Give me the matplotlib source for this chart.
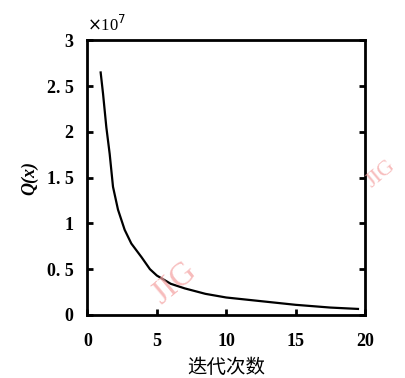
import matplotlib
matplotlib.use('Agg')
from matplotlib import pyplot as plt

# iteration vs Q(x) (units of 1e7)
iters = [0.95, 1.12, 1.36, 1.6, 1.84, 2.2, 2.68, 3.16, 3.9, 4.5, 5.0, 6.0,
         7.0, 8.5, 10, 12.5, 15, 17.5, 19.5]
q_vals = [2.65, 2.42, 2.05, 1.76, 1.40, 1.15, 0.93, 0.78, 0.63, 0.50, 0.43,
          0.34, 0.29, 0.23, 0.19, 0.15, 0.11, 0.08, 0.065]
x_ticks = [0, 5, 10, 15, 20]
y_ticks = [0, 0.5, 1, 1.5, 2, 2.5, 3]
y_labels = ['0', '0. 5', '1', '1. 5', '2', '2. 5', '3']

serif = ['Liberation Serif', 'DejaVu Serif']

fig = plt.figure(figsize=(4.05, 3.78), dpi=100)
ax = fig.add_axes([0.216, 0.167, 0.685, 0.726])

ax.plot(iters, q_vals, color='black', lw=1.6)

ax.set_xlim(0, 20)
ax.set_ylim(0, 3)
ax.set_xticks(x_ticks)
ax.set_xticklabels([str(t) for t in x_ticks], family=serif, fontsize=13,
                   fontweight='bold')
ax.set_yticks(y_ticks)
ax.set_yticklabels(y_labels, family=serif, fontsize=13, fontweight='bold')
ax.tick_params(direction='in', length=4, width=2, left=True, right=True,
               bottom=True, top=False)
ax.tick_params(axis='x', pad=13)
ax.tick_params(axis='y', pad=10)
for s in ax.spines.values():
    s.set_linewidth(2)

ax.text(0.0, 1.02, r'$\times$10$^7$', transform=ax.transAxes, family=serif,
        fontsize=12, ha='left', va='bottom')
ax.set_ylabel('Q(x)', family=serif, fontsize=13, fontstyle='italic',
              fontweight='bold', labelpad=6)
ax.set_xlabel('迭代次数', family=['Noto Sans CJK SC', 'DejaVu Sans'],
              fontsize=14, labelpad=5)

# watermark
fig.text(0.43, 0.25, 'JIG', color='#f4a0a0', alpha=0.7, fontsize=24,
         family=serif, rotation=40, ha='center', va='center')
fig.text(0.94, 0.54, 'JIG', color='#f4a0a0', alpha=0.7, fontsize=16,
         family=serif, rotation=40, ha='center', va='center')

fig.savefig('out.png', dpi=100)
